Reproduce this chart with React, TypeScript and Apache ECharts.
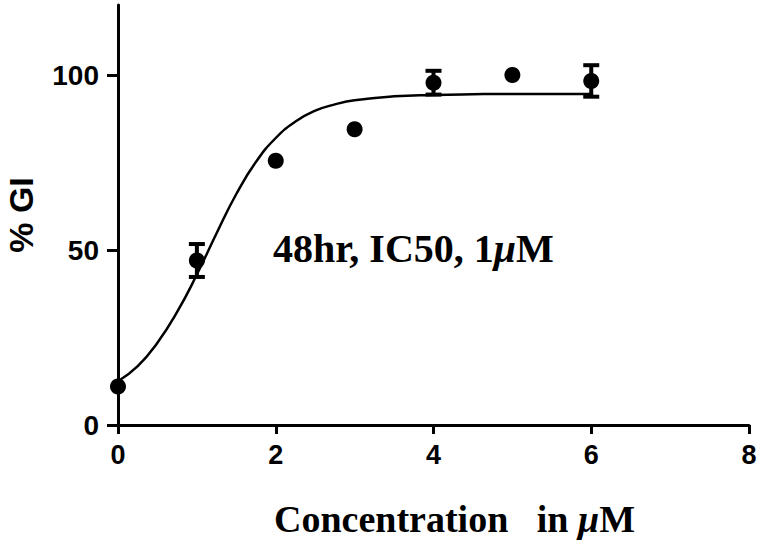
import React, { useEffect, useRef } from "react";
import * as echarts from "echarts";

// Measured concentrations (µM) and %GI (mean, ± error)
const concentrations = [0, 1, 2, 3, 4, 5, 6];
const meanGI = [11, 47, 75.5, 84.5, 97.8, 100, 98.3];
const errGI = [0, 4.7, 0, 0, 3.4, 0, 4.5];

// Fitted dose-response curve
const curveX = [0, 0.25, 0.5, 0.75, 1, 1.25, 1.5, 1.75, 2, 2.25, 2.5, 2.75, 3, 3.5, 4, 4.5, 5, 5.5, 6];
const curveY = [12.5, 16.8, 23.5, 32.3, 43, 54.8, 66, 75.2, 82, 86.7, 89.8, 91.6, 92.8, 93.9, 94.3, 94.5, 94.6, 94.6, 94.6];

// Axis ticks
const xTicks = [0, 2, 4, 6, 8];
const yTicks = [0, 50, 100];

const annotation = "48hr, IC50, 1";
const xTitle = "Concentration   in ";

export default function App() {
  const ref = useRef<HTMLDivElement>(null);

  useEffect(() => {
    if (!ref.current) return;
    const chart = echarts.init(ref.current, null, { renderer: "svg" });
    const sans = "Liberation Sans";
    const serif = "Liberation Serif";
    const points = concentrations.map((c, i) => [c, meanGI[i]]);
    const bars = concentrations.map((c, i) => [c, meanGI[i], errGI[i]]);
    const curve = curveX.map((x, i) => [x, curveY[i]]);

    chart.setOption({
      animation: false,
      backgroundColor: "#fff",
      grid: { left: 118, right: 11, top: 5, bottom: 127, containLabel: false, outerBoundsMode: "none" },
      xAxis: {
        type: "value",
        min: 0,
        max: 8,
        interval: 2,
        axisLine: { show: true, onZero: false, lineStyle: { color: "#000", width: 3 } },
        axisTick: { show: true, length: 9, lineStyle: { color: "#000", width: 3 } },
        splitLine: { show: false },
        axisLabel: {
          margin: 16,
          color: "#000",
          fontFamily: sans,
          fontWeight: "bold",
          fontSize: 27,
          customValues: xTicks,
        },
      },
      yAxis: {
        type: "value",
        min: 0,
        max: 120,
        axisLine: { show: true, lineStyle: { color: "#000", width: 3 } },
        axisTick: { show: true, length: 11, customValues: yTicks, lineStyle: { color: "#000", width: 3 } },
        splitLine: { show: false },
        axisLabel: {
          margin: 19,
          color: "#000",
          fontFamily: sans,
          fontWeight: "bold",
          fontSize: 28,
          customValues: yTicks,
        },
        name: "% GI",
        nameLocation: "middle",
        nameGap: 80,
        nameRotate: 90,
        nameTextStyle: { fontFamily: sans, fontWeight: "bold", fontSize: 34, color: "#000" },
      },
      graphic: [
        {
          type: "text",
          left: 273,
          top: 228,
          style: {
            text: "{a|" + annotation + "}{m|μ}{a|M}",
            rich: {
              a: { fontFamily: serif, fontWeight: "bold", fontSize: 40, fill: "#000" },
              m: { fontFamily: serif, fontWeight: "bold", fontStyle: "italic", fontSize: 40, fill: "#000" },
            },
          },
        },
        {
          type: "text",
          left: 274,
          top: 500,
          style: {
            text: "{a|" + xTitle + "}{m|μ}{a|M}",
            rich: {
              a: { fontFamily: serif, fontWeight: "bold", fontSize: 38, fill: "#000" },
              m: { fontFamily: serif, fontWeight: "bold", fontStyle: "italic", fontSize: 38, fill: "#000" },
            },
          },
        },
      ],
      series: [
        {
          type: "line",
          data: curve,
          smooth: true,
          symbol: "none",
          lineStyle: { color: "#000", width: 2.5 },
          z: 2,
        },
        {
          type: "custom",
          data: bars,
          renderItem: (params: any, api: any) => {
            const x = api.value(0);
            const y = api.value(1);
            const e = api.value(2);
            if (!e) return null;
            const top = api.coord([x, y + e]);
            const bot = api.coord([x, y - e]);
            const half = 8;
            const st = { stroke: "#000", lineWidth: 4 };
            return {
              type: "group",
              children: [
                { type: "line", shape: { x1: top[0], y1: top[1], x2: bot[0], y2: bot[1] }, style: { stroke: "#000", lineWidth: 4 } },
                { type: "line", shape: { x1: top[0] - half, y1: top[1], x2: top[0] + half, y2: top[1] }, style: st },
                { type: "line", shape: { x1: bot[0] - half, y1: bot[1], x2: bot[0] + half, y2: bot[1] }, style: st },
              ],
            };
          },
          z: 3,
        },
        {
          type: "scatter",
          data: points,
          symbol: "circle",
          symbolSize: 16,
          itemStyle: { color: "#000", opacity: 1 },
          z: 4,
        },
      ],
    });
    return () => chart.dispose();
  }, []);

  return (
    <div
      ref={ref}
      style={{ position: "fixed", left: 0, top: 0, width: 760, height: 552, background: "#fff" }}
    />
  );
}
